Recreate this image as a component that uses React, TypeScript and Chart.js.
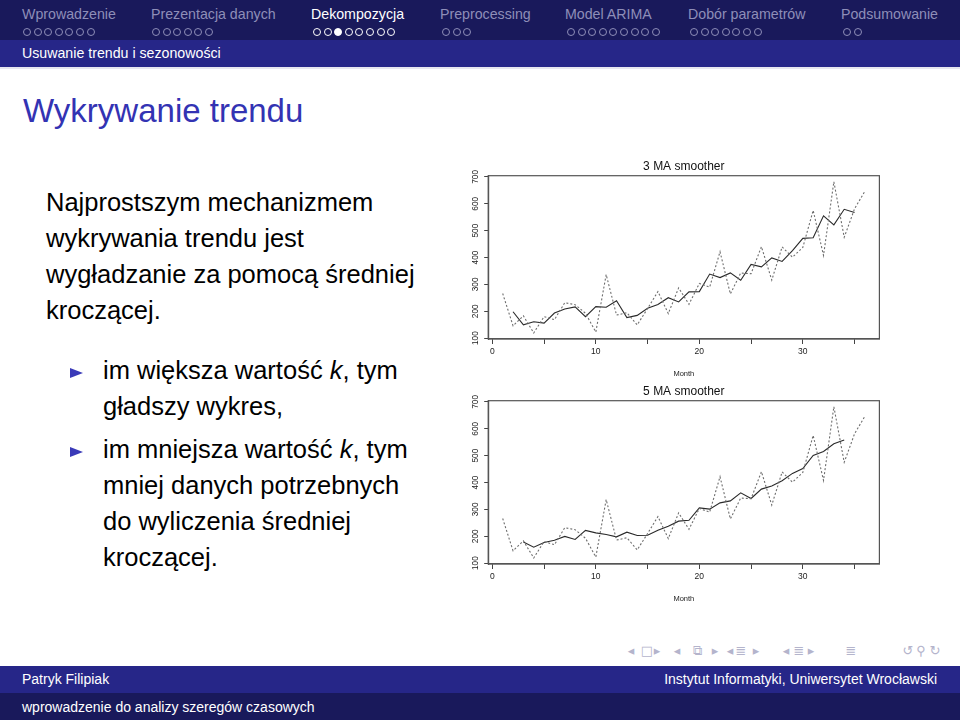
import React, { useEffect, useRef } from "react";
import { Chart, registerables } from "chart.js";

Chart.register(...registerables);

// ---------- data ----------
const months = [1, 2, 3, 4, 5, 6, 7, 8, 9, 10, 11, 12, 13, 14, 15, 16, 17, 18, 19, 20, 21, 22, 23, 24, 25, 26, 27, 28, 29, 30, 31, 32, 33, 34, 35, 36];
const sales = [266.0, 145.9, 183.1, 119.3, 180.3, 168.5, 231.8, 224.5, 192.8, 122.9, 336.5, 185.9, 194.3, 149.5, 210.1, 273.3, 191.4, 287.0, 226.0, 303.6, 289.9, 421.6, 264.5, 342.3, 339.7, 440.4, 315.9, 439.3, 401.3, 437.4, 575.5, 407.6, 682.0, 475.3, 581.3, 646.9];
const ma3 = [null, 198.3, 149.4, 161.0, 156.0, 193.5, 208.3, 216.4, 180.1, 217.4, 215.1, 238.9, 176.6, 184.6, 211.0, 224.9, 250.6, 234.8, 272.2, 273.2, 338.4, 325.3, 342.8, 315.5, 374.1, 365.3, 398.5, 385.5, 426.0, 471.4, 473.5, 555.0, 521.6, 579.5, 567.8, null];
const ma5 = [null, null, 178.9, 159.4, 176.6, 184.9, 199.6, 188.1, 221.7, 212.5, 206.5, 197.8, 215.3, 202.6, 203.7, 222.3, 237.6, 256.3, 259.6, 305.6, 301.1, 324.4, 331.6, 361.7, 340.6, 375.5, 387.3, 406.9, 433.9, 452.2, 500.8, 515.6, 544.3, 558.6, null, null];
const xTicks = [0, 5, 10, 15, 20, 25, 30, 35];
const xTickLabels = ["0", "", "10", "", "20", "", "30", ""];
const yTicks = [100, 200, 300, 400, 500, 600, 700];
const yTickLabels = ["100", "200", "300", "400", "500", "600", "700"];
const xLabel = "Month";
const chartTitles = ["3 MA smoother", "5 MA smoother"];

const sections = ["Wprowadzenie", "Prezentacja danych", "Dekompozycja", "Preprocessing", "Model ARIMA", "Dobór parametrów", "Podsumowanie"];
const sectionDots = [7, 6, 8, 3, 9, 7, 2];
const activeSection = 2;
const activeDot = 2;
const subsection = "Usuwanie trendu i sezonowości";
const frameTitle = "Wykrywanie trendu";
const footerAuthor = "Patryk Filipiak";
const footerInstitute = "Instytut Informatyki, Uniwersytet Wrocławski";
const footerTitle = "wprowadzenie do analizy szeregów czasowych";

// ---------- layout ----------
const FONT = "'Liberation Sans', Arial, Helvetica, sans-serif";
const navNameX = [22, 151, 311, 440, 565, 688, 841];
const navDotX = [23, 152, 313, 442, 567, 690, 843];

const boxPlugin = {
  id: "rbox",
  afterDraw(chart: any) {
    const { ctx, chartArea: a } = chart;
    ctx.save();
    ctx.strokeStyle = "#555";
    ctx.lineWidth = 1.2;
    ctx.strokeRect(a.left, a.top, a.right - a.left, a.bottom - a.top);
    ctx.restore();
  },
};

function MAChart({ smooth, title, top }: { smooth: (number | null)[]; title: string; top: number }) {
  const ref = useRef<HTMLCanvasElement>(null);
  useEffect(() => {
    const chart = new Chart(ref.current as HTMLCanvasElement, {
      type: "line",
      data: {
        datasets: [
          {
            data: sales.map((v, i) => ({ x: months[i], y: v })),
            borderColor: "#6e6e6e",
            borderWidth: 1.1,
            borderDash: [2, 2],
            pointRadius: 0,
            tension: 0,
            fill: false,
          },
          {
            data: smooth.map((v, i) => ({ x: months[i], y: v })),
            borderColor: "#2a2a2a",
            borderWidth: 1.1,
            pointRadius: 0,
            tension: 0,
            fill: false,
          },
        ],
      } as any,
      options: {
        animation: false,
        responsive: false,
        layout: { padding: { top: 0, right: 5.6, left: 0, bottom: 0 } },
        plugins: {
          legend: { display: false },
          tooltip: { enabled: false },
          title: {
            display: true,
            text: title,
            fullSize: false,
            color: "#111",
            font: { family: FONT, size: 12, weight: "normal" },
            padding: { top: 4.8, bottom: 1.5 },
          },
        },
        scales: {
          x: {
            type: "linear",
            min: -0.4,
            max: 37.4,
            afterBuildTicks: (s: any) => {
              s.ticks = xTicks.map((v) => ({ value: v }));
            },
            afterFit: (s: any) => {
              s.height = 40;
            },
            ticks: {
              autoSkip: false,
              maxRotation: 0,
              padding: 2.4,
              color: "#222",
              font: { family: FONT, size: 8.5 },
              callback: (_v: any, i: number) => xTickLabels[i],
            },
            grid: { drawOnChartArea: false, tickLength: 5, color: "#444", lineWidth: 1 },
            border: { color: "#555", width: 1.2 },
            title: {
              display: true,
              text: xLabel,
              color: "#222",
              font: { family: FONT, size: 7.5 },
              padding: { top: 0, bottom: 0.5 },
            },
          },
          y: {
            type: "linear",
            min: 96.8,
            max: 704.5,
            afterBuildTicks: (s: any) => {
              s.ticks = yTicks.map((v) => ({ value: v }));
            },
            afterFit: (s: any) => {
              s.width = 28.2;
            },
            ticks: {
              minRotation: 90,
              maxRotation: 90,
              crossAlign: "center",
              padding: 1.5,
              color: "#222",
              font: { family: FONT, size: 8.3 },
              callback: (_v: any, i: number) => yTickLabels[i],
            },
            grid: { drawOnChartArea: false, tickLength: 4, color: "#444", lineWidth: 1 },
            border: { color: "#555", width: 1.2 },
          },
        },
      } as any,
      plugins: [boxPlugin],
    });
    return () => chart.destroy();
  }, []);
  return (
    <canvas
      ref={ref}
      width={425}
      height={224}
      style={{ position: "absolute", left: 460, top, width: 425, height: 224 }}
    />
  );
}

function Txt({ x, y, size, color, children, style }: any) {
  // y = baseline
  return (
    <div
      style={{
        position: "absolute",
        left: x,
        top: y - 0.8465 * size,
        fontSize: size,
        lineHeight: `${size}px`,
        color,
        whiteSpace: "nowrap",
        ...style,
      }}
    >
      {children}
    </div>
  );
}

const navGlyphs: [string, number][] = [
  ["◂", 631], ["□", 647], ["▸", 657],
  ["◂", 677], ["⧉", 697], ["▸", 715],
  ["◂", 730], ["≣", 741], ["▸", 756],
  ["◂", 786], ["≣", 799], ["▸", 811],
  ["≣", 851],
  ["↺", 908], ["⚲", 921], ["↻", 935],
];

export default function App() {
  const inactive = "#8e8eb8";
  const bodyText = { fontSize: 25.5, lineHeight: "36px", color: "#000" };
  return (
    <div
      style={{
        position: "absolute",
        left: 0,
        top: 0,
        width: 960,
        height: 720,
        overflow: "hidden",
        background: "#fff",
        fontFamily: FONT,
      }}
    >
      {/* header */}
      <div style={{ position: "absolute", left: 0, top: 0, width: 960, height: 40, background: "#19195b" }} />
      <div style={{ position: "absolute", left: 0, top: 40, width: 960, height: 27, background: "#262688" }} />
      <div style={{ position: "absolute", left: 0, top: 67, width: 960, height: 2, background: "#e6e6ef" }} />
      {sections.map((s, si) => (
        <React.Fragment key={s}>
          <Txt x={navNameX[si]} y={19} size={14.2} color={si === activeSection ? "#fff" : inactive}>
            {s}
          </Txt>
          {Array.from({ length: sectionDots[si] }).map((_, di) => {
            const col = si === activeSection ? "#fff" : inactive;
            const filled = si === activeSection && di === activeDot;
            return (
              <div
                key={di}
                style={{
                  position: "absolute",
                  left: navDotX[si] + di * 10.6,
                  top: 27.6,
                  width: 8,
                  height: 8,
                  boxSizing: "border-box",
                  borderRadius: "50%",
                  border: `1.2px solid ${col}`,
                  background: filled ? col : "transparent",
                }}
              />
            );
          })}
        </React.Fragment>
      ))}
      <Txt x={22} y={58} size={14.2} color="#fff">
        {subsection}
      </Txt>

      {/* frame title */}
      <Txt x={23} y={122.2} size={33} color="#3333b3">
        {frameTitle}
      </Txt>

      {/* body */}
      <div style={{ position: "absolute", left: 46, top: 184, whiteSpace: "nowrap", ...bodyText }}>
        Najprostszym mechanizmem
        <br />
        wykrywania trendu jest
        <br />
        wygładzanie za pomocą średniej
        <br />
        kroczącej.
      </div>
      {[351.5, 430.5].map((t, i) => (
        <div
          key={i}
          style={{
            position: "absolute",
            left: 70,
            top: t + 16,
            width: 0,
            height: 0,
            borderTop: "5.8px solid transparent",
            borderBottom: "5.8px solid transparent",
            borderLeft: "13px solid #3a3ab8",
          }}
        />
      ))}
      <div style={{ position: "absolute", left: 103, top: 351.5, whiteSpace: "nowrap", ...bodyText }}>
        im większa wartość <i>k</i>, tym
        <br />
        gładszy wykres,
      </div>
      <div style={{ position: "absolute", left: 103, top: 430.5, whiteSpace: "nowrap", ...bodyText }}>
        im mniejsza wartość <i>k</i>, tym
        <br />
        mniej danych potrzebnych
        <br />
        do wyliczenia średniej
        <br />
        kroczącej.
      </div>

      {/* charts */}
      <MAChart smooth={ma3} title={chartTitles[0]} top={155} />
      <MAChart smooth={ma5} title={chartTitles[1]} top={380} />

      {/* navigation symbols */}
      {navGlyphs.map(([g, x], i) => (
        <div
          key={i}
          style={{
            position: "absolute",
            left: x - 7,
            top: 643,
            width: 14,
            textAlign: "center",
            fontFamily: "'DejaVu Sans', sans-serif",
            fontSize: 13,
            lineHeight: "16px",
            color: "#b4b4cc",
          }}
        >
          {g}
        </div>
      ))}

      {/* footer */}
      <div style={{ position: "absolute", left: 0, top: 666, width: 960, height: 27, background: "#262688" }} />
      <div style={{ position: "absolute", left: 0, top: 693, width: 960, height: 27, background: "#19195b" }} />
      <Txt x={22} y={684} size={14} color="#fff">
        {footerAuthor}
      </Txt>
      <div
        style={{
          position: "absolute",
          right: 23,
          top: 684 - 0.8465 * 14,
          fontSize: 14,
          lineHeight: "14px",
          color: "#fff",
          whiteSpace: "nowrap",
        }}
      >
        {footerInstitute}
      </div>
      <Txt x={22} y={712} size={14} color="#fff">
        {footerTitle}
      </Txt>
    </div>
  );
}
